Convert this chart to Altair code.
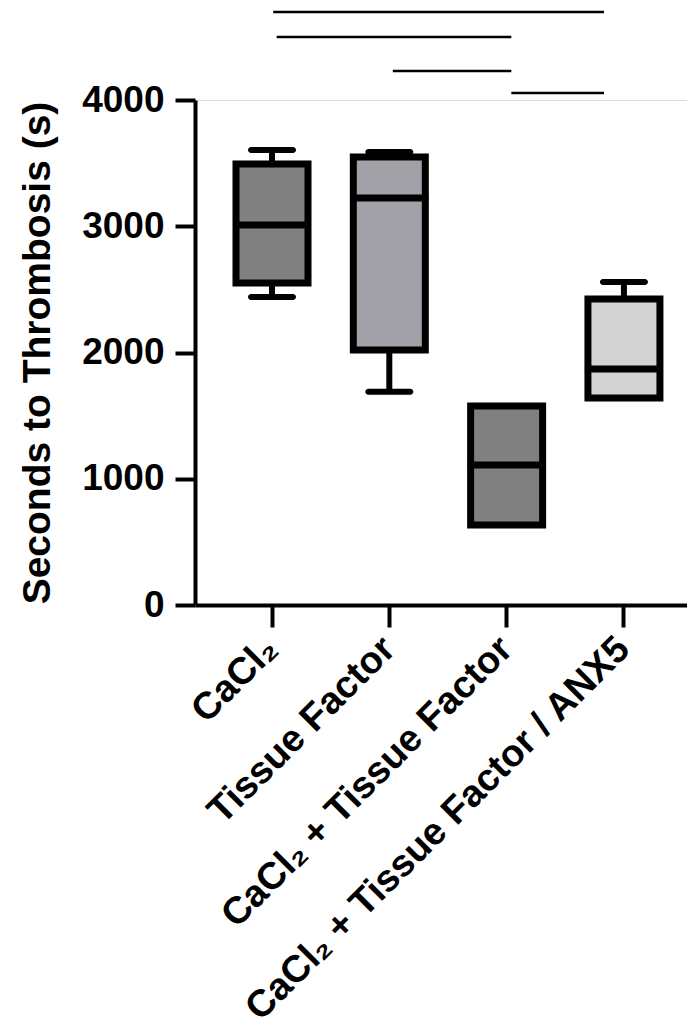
import altair as alt
import pandas as pd

# ---- data ----
groups = ["CaCl₂", "Tissue Factor", "CaCl₂ + Tissue Factor", "CaCl₂ + Tissue Factor / ANX5"]
mins = [2440, 1690, 634, 1640]
q1s = [2550, 2020, 634, 1640]
medians = [3010, 3224, 1109, 1869]
q3s = [3493, 3548, 1576, 2424]
maxs = [3604, 3588, 1576, 2558]
fills = ["#808080", "#a1a1a7", "#808080", "#d3d3d3"]

# significance bars: x in group-index units (0 = first group), y in seconds
sig_x1 = [0.01, 0.04, 1.03, 2.04]
sig_x2 = [2.83, 2.04, 2.04, 2.83]
sig_y = [4697, 4499, 4230, 4055]

y_ticks = [0, 1000, 2000, 3000, 4000]

df = pd.DataFrame({"group": groups, "min": mins, "q1": q1s, "median": medians,
                   "q3": q3s, "max": maxs})
sig = pd.DataFrame({"x1": sig_x1, "x2": sig_x2, "y": sig_y})

FONT = "Liberation Sans"
W, H = 492, 505

xscale = alt.Scale(domain=groups, paddingInner=0.4, paddingOuter=0.297, align=0.6)
yscale = alt.Scale(domain=[0, 4000], nice=False, zero=True)

x_enc = alt.X("group:N", scale=xscale, sort=groups, title=None,
              axis=alt.Axis(labelAngle=-45, labelAlign="right", labelBaseline="middle",
                            tickSize=22, tickWidth=4, domainWidth=4,
                            domainColor="black", tickColor="black", labelColor="black",
                            labelFont=FONT, labelFontSize=38, labelFontWeight="bold",
                            labelLimit=2000, labelPadding=16))
y_axis = alt.Axis(values=y_ticks, format="d", tickSize=20, tickWidth=4, domainWidth=4,
                  domainColor="black", tickColor="black", labelColor="black",
                  labelFont=FONT, labelFontSize=37, labelFontWeight="bold",
                  labelPadding=11, labelFlush=False, labelOverlap=False, grid=False,
                  title="Seconds to Thrombosis (s)", titleFont=FONT, titleFontSize=39,
                  titleFontWeight="bold", titleColor="black", titlePadding=24)

base = alt.Chart(df)
whisk = base.mark_rule(color="black", strokeWidth=6).encode(
    x=x_enc, y=alt.Y("min:Q", scale=yscale, axis=y_axis), y2="max:Q")
cap_lo = base.mark_tick(color="black", size=48, thickness=6, cornerRadius=3, opacity=1).encode(
    x=x_enc, y="min:Q")
cap_hi = base.mark_tick(color="black", size=48, thickness=6, cornerRadius=3, opacity=1).encode(
    x=x_enc, y="max:Q")
box = base.mark_bar(size=72, stroke="black", strokeWidth=7, opacity=1).encode(
    x=x_enc, y="q1:Q", y2="q3:Q",
    fill=alt.Fill("group:N", scale=alt.Scale(domain=groups, range=fills), legend=None))
med = base.mark_tick(color="black", size=78, thickness=7, opacity=1).encode(
    x=x_enc, y="median:Q")

boxes = alt.layer(whisk, cap_lo, cap_hi, box, med)

sigs = alt.Chart(sig).mark_rule(color="black", strokeWidth=2.5, clip=False).encode(
    x=alt.X("x1:Q", scale=alt.Scale(domain=[-0.6564, 3.5376], nice=False, zero=False), axis=None),
    x2="x2:Q",
    y=alt.Y("y:Q", scale=yscale))

chart = alt.layer(boxes, sigs).resolve_scale(x="independent").properties(
    width=W, height=H,
    autosize=alt.AutoSizeParams(type="none"),
    padding={"left": 195, "top": 100, "right": 0, "bottom": 430},
).configure_view(stroke=None).configure(background="white")

chart.save("out.html", embed_options={"renderer": "svg", "actions": False})
